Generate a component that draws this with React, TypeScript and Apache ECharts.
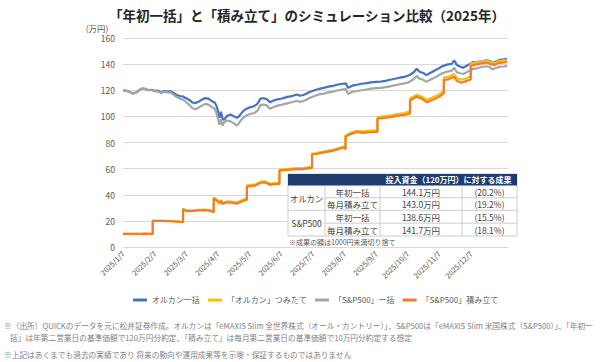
import React, { useEffect, useRef } from 'react';
import * as echarts from 'echarts';

const FONT = "'Noto Sans CJK JP', 'Noto Sans', sans-serif";

const titleText = '「年初一括」と「積み立て」のシミュレーション比較（2025年）';
const unitText = '(万円)';
const xLabels = ['2025/1/7', '2025/2/7', '2025/3/7', '2025/4/7', '2025/5/7', '2025/6/7', '2025/7/7', '2025/8/7', '2025/9/7', '2025/10/7', '2025/11/7', '2025/12/7'];
const seriesNames = ['オルカン一括', '「オルカン」つみたて', '「S&P500」一括', '「S&P500」積み立て'];
const seriesColors = ['#4472C4', '#FFC000', '#A5A5A5', '#ED7D31'];

// x in months from 2025/1/7
const lumpX = [
  0, 0.1, 0.2, 0.3, 0.4, 0.5, 0.6, 0.7, 0.8, 0.9,
  1.0, 1.1, 1.2, 1.3, 1.4, 1.5, 1.6, 1.7, 1.8, 1.9,
  2.0, 2.1, 2.2, 2.3, 2.4, 2.5, 2.6, 2.7, 2.8, 2.9,
  2.95, 3.0, 3.05, 3.1, 3.15, 3.2, 3.3, 3.4, 3.5, 3.6,
  3.65, 3.75, 3.85, 3.95, 4.05, 4.15, 4.25, 4.35, 4.45, 4.55,
  4.65, 4.75, 4.85, 5.0, 5.1, 5.2, 5.3, 5.4, 5.5, 5.6,
  5.7, 5.8, 5.9, 6.0, 6.1, 6.2, 6.35, 6.5, 6.65, 6.8,
  6.95, 7.05, 7.12, 7.25, 7.4, 7.55, 7.7, 7.85, 8.0, 8.15,
  8.3, 8.45, 8.6, 8.75, 8.9, 9.05, 9.2, 9.29, 9.38, 9.5,
  9.6, 9.7, 9.82, 9.95, 10.1, 10.25, 10.4, 10.48, 10.56, 10.66,
  10.76, 10.86, 10.96, 11.08, 11.2, 11.35, 11.5, 11.6, 11.7, 11.8,
  11.92, 12.05, 12.15,
];
const orcanLump = [
  120.0, 119.6, 118.8, 117.6, 118.2, 119.8, 121.3, 121.0, 120.2, 120.4,
  119.6, 119.8, 118.3, 119.4, 119.0, 119.3, 117.9, 116.4, 115.6, 115.2,
  113.8, 112.6, 110.6, 110.2, 111.4, 112.8, 114.0, 113.6, 111.8, 110.6,
  108.5, 104.5, 99.0, 103.5, 98.0, 97.5, 100.5, 101.5, 100.2, 99.0,
  99.5, 102.5, 105.0, 106.3, 107.2, 107.8, 109.5, 113.6, 113.9, 113.2,
  110.8, 111.9, 112.8, 113.5, 114.2, 114.9, 115.3, 116.0, 116.8, 115.8,
  116.4, 117.3, 118.6, 119.4, 120.4, 121.0, 121.8, 122.8, 123.4, 124.4,
  125.0, 125.3, 121.8, 123.5, 124.2, 125.0, 125.4, 126.0, 126.4, 126.6,
  127.2, 128.0, 128.8, 129.6, 130.2, 131.5, 133.8, 136.4, 134.2, 133.2,
  131.6, 133.0, 134.6, 136.2, 138.4, 139.6, 140.2, 142.8, 139.4, 138.2,
  137.2, 138.6, 140.0, 141.6, 141.8, 142.2, 143.0, 142.4, 141.0, 142.0,
  143.2, 143.6, 144.1,
];
const spLump = [
  120.0, 119.7, 118.9, 117.4, 118.0, 119.6, 121.2, 120.8, 120.0, 120.0,
  119.2, 119.3, 117.8, 118.8, 118.3, 118.4, 116.6, 114.8, 113.6, 112.8,
  110.8, 108.8, 106.2, 105.4, 106.8, 108.2, 109.6, 109.0, 107.2, 105.8,
  103.0, 98.5, 93.5, 98.0, 93.0, 95.5, 96.8, 96.2, 94.8, 93.0,
  94.2, 97.6, 99.8, 101.2, 102.0, 102.6, 104.2, 108.6, 109.0, 108.4,
  105.8, 107.0, 108.0, 108.8, 109.4, 110.0, 110.6, 111.2, 112.0, 111.0,
  111.8, 112.8, 114.0, 115.0, 116.0, 116.8, 117.4, 118.4, 119.0, 120.0,
  120.6, 120.8, 117.0, 118.8, 119.4, 120.0, 120.6, 121.2, 121.6, 121.8,
  122.4, 123.0, 123.8, 124.6, 125.2, 126.2, 128.6, 131.0, 128.8, 128.0,
  126.4, 127.8, 129.2, 130.8, 133.0, 134.2, 134.8, 137.2, 133.8, 133.0,
  132.4, 133.6, 135.0, 136.4, 136.8, 137.8, 138.4, 137.6, 136.0, 137.0,
  138.0, 138.2, 138.6,
];

const accX = [
  0, 0.3, 0.6, 0.7, 0.8, 0.94, 0.94, 1.2, 1.5, 1.7,
  1.9, 1.9, 2.0, 2.2, 2.4, 2.6, 2.75, 2.87, 2.87, 2.95,
  3.05, 3.1, 3.15, 3.3, 3.45, 3.6, 3.7, 3.85, 3.92, 3.92,
  4.05, 4.2, 4.35, 4.5, 4.65, 4.8, 4.95, 4.95, 5.1, 5.3,
  5.5, 5.7, 5.9, 5.98, 5.98, 6.1, 6.33, 6.65, 6.9, 7.0,
  7.04, 7.04, 7.2, 7.4, 7.6, 7.8, 8.05, 8.05, 8.3, 8.5,
  8.7, 8.9, 9.08, 9.08, 9.29, 9.45, 9.62, 9.8, 10.0, 10.15,
  10.15, 10.3, 10.47, 10.56, 10.7, 10.85, 11.0, 11.0, 11.15, 11.35,
  11.5, 11.65, 11.75, 11.9, 12.05, 12.15,
];
const spAcc = [
  10.0, 10.0, 10.1, 10.3, 10.0, 10.0, 20.0, 20.0, 19.8, 19.4,
  19.0, 29.0, 27.6, 27.5, 28.0, 28.2, 27.8, 26.6, 37.2, 36.0,
  33.4, 35.4, 33.0, 34.2, 34.0, 33.2, 34.2, 35.8, 36.2, 46.2,
  46.6, 47.2, 49.2, 49.4, 47.6, 48.2, 48.4, 58.4, 58.8, 59.2,
  59.6, 59.6, 60.4, 60.6, 70.8, 71.2, 72.3, 73.8, 75.6, 76.2,
  74.6, 84.4, 86.4, 88.0, 87.4, 88.0, 88.2, 98.2, 99.0, 99.6,
  100.6, 101.2, 102.2, 112.2, 115.0, 113.6, 110.8, 112.8, 115.0, 117.8,
  127.8, 128.4, 130.4, 127.2, 125.8, 127.0, 128.2, 138.6, 139.6, 140.6,
  141.2, 139.8, 139.4, 141.0, 141.4, 141.7,
];
const orcanAcc = [
  10.0, 10.0, 10.1, 10.3, 10.0, 10.0, 20.0, 20.1, 19.9, 19.6,
  19.3, 29.3, 28.0, 28.0, 28.5, 28.7, 28.3, 27.2, 37.8, 36.6,
  34.2, 36.0, 33.9, 35.0, 34.8, 34.2, 35.2, 36.8, 37.2, 47.2,
  47.6, 48.0, 50.0, 50.2, 48.6, 49.2, 49.3, 59.3, 59.7, 60.0,
  60.4, 60.4, 61.2, 61.4, 71.5, 71.9, 73.0, 74.5, 76.3, 76.9,
  75.5, 85.4, 87.4, 89.0, 88.5, 89.2, 89.4, 99.4, 100.3, 101.0,
  102.0, 102.6, 103.8, 113.8, 116.6, 115.2, 112.6, 114.6, 116.8, 119.6,
  129.6, 130.2, 132.6, 129.4, 128.0, 129.2, 130.4, 140.4, 141.2, 142.0,
  142.6, 141.4, 140.8, 142.4, 142.8, 143.0,
];

const tableHeader = '投入資金（120万円）に対する成果';
const tableFunds = ['オルカン', 'S&P500'];
const tableMethods = ['年初一括', '毎月積み立て', '年初一括', '毎月積み立て'];
const tableValues = ['144.1万円', '143.0万円', '138.6万円', '141.7万円'];
const tablePct = ['(20.2%)', '(19.2%)', '(15.5%)', '(18.1%)'];
const tableNote = '※成果の額は1000円未満切り捨て';

const footnotes = [
  '※（出所）QUICKのデータを元に松井証券作成。オルカンは「eMAXIS Slim 全世界株式（オール・カントリー）」、S&P500は「eMAXIS Slim 米国株式（S&P500）」、「年初一',
  '括」は年第二営業日の基準価額で120万円分約定、「積み立て」は毎月第二営業日の基準価額で10万円分約定する想定',
  '※上記はあくまでも過去の実績であり 将来の動向や運用成果等を示唆・保証するものではありません',
];

function buildTable(): any[] {
  const L = 288, R = 517, c1 = 325, c2 = 380, c3 = 462;
  const hTop = 174, hBot = 185.5;
  const rows = [185.5, 197.8, 210.3, 223.2, 236];
  const lineStyle = { stroke: '#BFBFBF', lineWidth: 0.8 };
  const els: any[] = [];
  els.push({ type: 'rect', shape: { x: L, y: hTop, width: R - L, height: rows[4] - hTop }, style: { fill: '#fff', stroke: '#BFBFBF', lineWidth: 0.8 }, z: 100 });
  els.push({ type: 'rect', shape: { x: L, y: hTop, width: R - L, height: hBot - hTop }, style: { fill: '#1F3C6E' }, z: 101 });
  els.push({ type: 'text', x: (c2 + R) / 2, y: (hTop + hBot) / 2, style: { text: tableHeader, fill: '#fff', font: `bold 8px ${FONT}`, align: 'center', verticalAlign: 'middle' }, z: 102 });
  const hl = (y: number, x0: number) => els.push({ type: 'line', shape: { x1: x0, y1: y, x2: R, y2: y }, style: lineStyle, z: 101 });
  hl(rows[1], c1); hl(rows[2], L); hl(rows[3], c1);
  [c1, c2, c3].forEach((x) => els.push({ type: 'line', shape: { x1: x, y1: hBot, x2: x, y2: rows[4] }, style: lineStyle, z: 101 }));
  const txt = (s: string, x: number, y: number) => els.push({ type: 'text', x, y, style: { text: s, fill: '#404040', font: `8.5px ${FONT}`, align: 'center', verticalAlign: 'middle' }, z: 102 });
  tableFunds.forEach((f, i) => txt(f, (L + c1) / 2, (rows[i * 2] + rows[i * 2 + 2]) / 2));
  for (let i = 0; i < 4; i++) {
    const cy = (rows[i] + rows[i + 1]) / 2;
    txt(tableMethods[i], (c1 + c2) / 2, cy);
    txt(tableValues[i], (c2 + c3) / 2, cy);
    txt(tablePct[i], (c3 + R) / 2, cy);
  }
  els.push({ type: 'text', x: L + 1, y: 242, style: { text: tableNote, fill: '#595959', font: `7px ${FONT}`, align: 'left', verticalAlign: 'middle' }, z: 102 });
  return els;
}

export default function App() {
  const ref = useRef<HTMLDivElement>(null);
  useEffect(() => {
    const chart = echarts.init(ref.current!, null, { renderer: 'svg' });
    const lineSeries = (i: number, xs: number[], ys: number[]) => ({
      name: seriesNames[i],
      type: 'line',
      data: xs.map((x, k) => [x, ys[k]]),
      showSymbol: false,
      symbol: 'none',
      lineStyle: { color: seriesColors[i], width: 2.2 },
      itemStyle: { color: seriesColors[i] },
      z: 2 + i,
    });
    chart.setOption({
      animation: false,
      textStyle: { fontFamily: FONT },
      grid: { left: 123, right: 92, top: 38, bottom: 115, containLabel: false },
      xAxis: {
        type: 'value',
        min: 0,
        max: 12.18,
        interval: 1,
        splitLine: { show: false },
        axisTick: { show: false },
        axisLine: { show: true, lineStyle: { color: '#D9D9D9' } },
        axisLabel: {
          rotate: 45,
          margin: 5,
          fontSize: 7.5,
          color: '#595959',
          fontFamily: FONT,
          formatter: (v: number) => (Math.abs(v - Math.round(v)) < 1e-6 && xLabels[Math.round(v)]) || '',
        },
      },
      yAxis: {
        type: 'value',
        min: 0,
        max: 160,
        interval: 20,
        axisLine: { show: false },
        axisTick: { show: false },
        splitLine: { lineStyle: { color: '#D9D9D9', width: 1 } },
        axisLabel: { fontSize: 8.5, color: '#595959', margin: 8, fontFamily: FONT },
      },
      legend: {
        left: 128,
        top: 291,
        icon: 'rect',
        itemWidth: 14,
        itemHeight: 3,
        itemGap: 8,
        textStyle: { fontSize: 8, color: '#595959', fontFamily: FONT },
        data: seriesNames.map((n, i) => ({ name: n, icon: 'rect', itemStyle: { color: seriesColors[i] } })),
      },
      series: [
        lineSeries(0, lumpX, orcanLump),
        lineSeries(1, accX, orcanAcc),
        lineSeries(2, lumpX, spLump),
        lineSeries(3, accX, spAcc),
      ],
      graphic: [
        { type: 'text', x: 307, y: 15, style: { text: titleText, fill: '#262626', font: `bold 13.5px ${FONT}`, align: 'center', verticalAlign: 'middle' } },
        { type: 'text', x: 97, y: 28, style: { text: unitText, fill: '#595959', font: `8.5px ${FONT}`, align: 'center', verticalAlign: 'middle' } },
        ...buildTable(),
        { type: 'text', x: 4, y: 325, style: { text: footnotes[0], fill: '#7F7F7F', font: `7.7px ${FONT}`, align: 'left', verticalAlign: 'middle' } },
        { type: 'text', x: 10, y: 337, style: { text: footnotes[1], fill: '#7F7F7F', font: `7.7px ${FONT}`, align: 'left', verticalAlign: 'middle' } },
        { type: 'text', x: 4, y: 354, style: { text: footnotes[2], fill: '#7F7F7F', font: `7.7px ${FONT}`, align: 'left', verticalAlign: 'middle' } },
      ],
    });
    return () => chart.dispose();
  }, []);
  return <div ref={ref} style={{ position: 'fixed', left: 0, top: 0, width: 600, height: 362, background: '#fff' }} />;
}
